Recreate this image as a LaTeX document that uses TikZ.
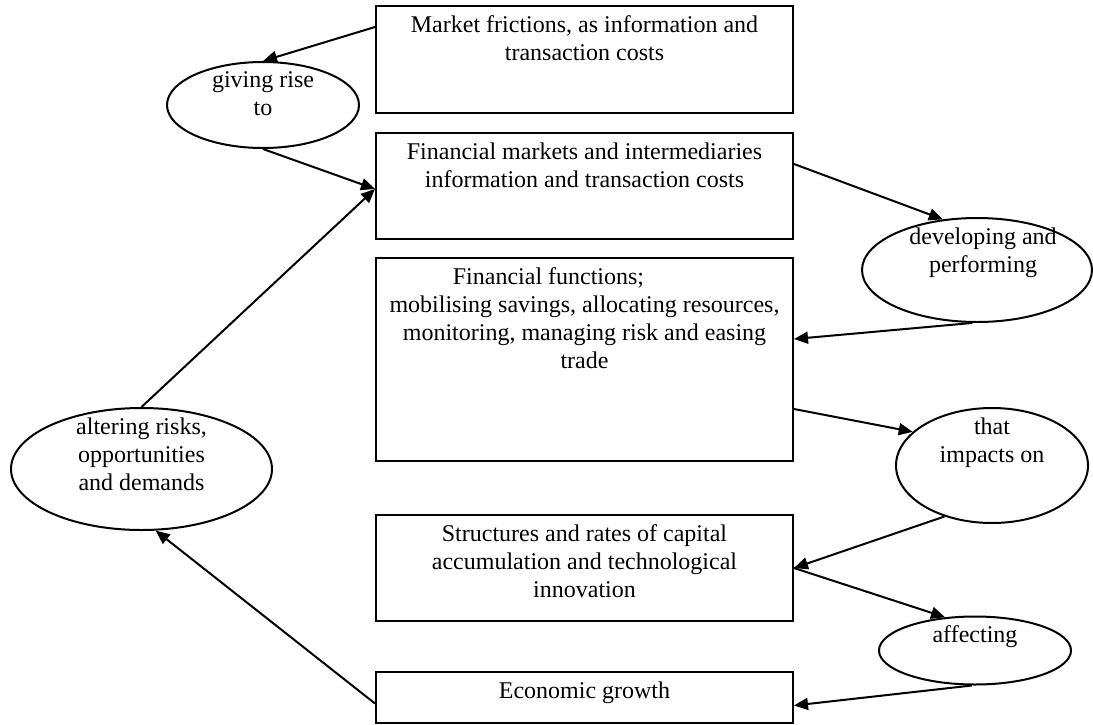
\documentclass[tikz,border=0pt]{standalone}
\usepackage{fontspec}
\setmainfont{Liberation Serif}
\usetikzlibrary{shapes.geometric}
\usetikzlibrary{arrows.meta}
\usetikzlibrary{positioning}
\tikzset{box/.style={draw,rectangle,minimum width=208.5pt,inner sep=0pt,line width=1pt},
         oval/.style={draw,ellipse,inner sep=0pt,line width=1pt},
         boxtext/.style={anchor=north,align=center,inner sep=0pt,yshift=-5pt,font=\fontsize{12pt}{14pt}\selectfont},
         arr/.style={-{Triangle[length=7pt,width=6pt]},line width=1pt},
         }

\begin{document}
\begin{tikzpicture}[x=0.5pt,y=-0.5pt]
\useasboundingbox (0,0) rectangle (1093,724);
% boxes in the middle column
\node[box,minimum height=53.5pt] (mf) at (584.5,59.5) {};
\node[box,minimum height=53pt] (fm) at (584.5,186) {};
\node[box,minimum height=101.5pt] (ff) at (584.5,359.5) {};
\node[box,minimum height=53pt] (st) at (584.5,568) {};
\node[box,minimum height=25.5pt] (eg) at (584.5,697.5) {};
\node[boxtext] (mftext) at (mf.north) {Market frictions, as information and\\transaction costs};
\node[boxtext] (fmtext) at (fm.north) {Financial markets and intermediaries\\information and transaction costs};
\node[boxtext] (fftext) at (ff.north) {Financial functions;\hspace*{36pt}\\mobilising savings, allocating resources,\\monitoring, managing risk and easing\\trade};
\node[boxtext] (sttext) at (st.north) {Structures and rates of capital\\accumulation and technological\\innovation};
\node[boxtext] (egtext) at (eg.north) {Economic growth};
% ovals
\node[oval,minimum width=96pt,minimum height=43pt] (gr) at (263,105) {};
\node[oval,minimum width=115pt,minimum height=52pt] (dv) at (977,270) {};
\node[oval,minimum width=96pt,minimum height=57.5pt] (ti) at (992,465.5) {};
\node[oval,minimum width=96pt,minimum height=34pt] (af) at (975,650.5) {};
\node[oval,minimum width=130.5pt,minimum height=61pt] (al) at (141.5,469) {};
\node[boxtext] (grtext) at (gr.north) {giving rise\\to};
\node[boxtext,xshift=3pt] (dvtext) at (dv.north) {developing and\\performing};
\node[boxtext] (titext) at (ti.north) {that\\impacts on};
\node[boxtext] (aftext) at (af.north) {affecting};
\node[boxtext] (altext) at (al.north) {altering risks,\\opportunities\\and demands};
% connectors
\draw[arr] ([yshift=-11pt]mf.north west) -- (gr.north);
\draw[arr] (gr.south) -- ([yshift=-1.5pt]fm.west);
\draw[arr] (al.north) -- ([yshift=-1.5pt]fm.west);
\draw[arr] ([yshift=-16pt]fm.north east) -- (dv.124);
\draw[arr] (dv.265) -- ([yshift=-41pt]ff.north east);
\draw[arr] ([yshift=-76pt]ff.north east) -- (ti.157);
\draw[arr] (ti.227) -- (st.east);
\draw[arr] (st.east) -- (af.132);
\draw[arr] (af.265) -- ([yshift=-4pt]eg.east);
\draw[arr] ([yshift=-3pt]eg.west) -- (al.283);
\end{tikzpicture}
\end{document}
